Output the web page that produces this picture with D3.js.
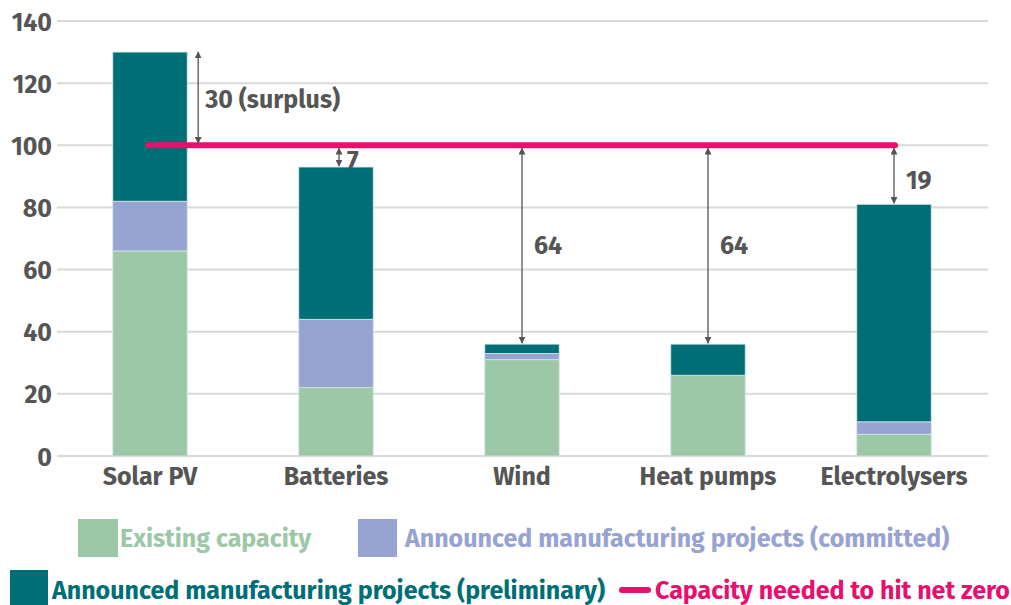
<!DOCTYPE html>
<html><head><meta charset="utf-8">
<script src="https://cdn.jsdelivr.net/npm/d3@7"></script>
<style>
body{margin:0;background:#fff;}
svg text{font-family:"Fira Sans",Roboto,"Noto Sans",sans-serif;font-weight:700;}
</style></head>
<body><svg id="c" width="1011" height="605"></svg>
<script>
const categories = ["Solar PV","Batteries","Wind","Heat pumps","Electrolysers"];
const existing = [66,22,31,26,7];
const committed = [16,22,2,0,4];
const preliminary = [48,49,3,10,70];
const netZero = 100;
const gapLabels = ["30 (surplus)","7","64","64","19"];
const yTicks = [0,20,40,60,80,100,120,140];
const seriesNames = ["Existing capacity","Announced manufacturing projects (committed)","Announced manufacturing projects (preliminary)","Capacity needed to hit net zero"];
const colors = ["#9dc8a8","#97a3d0","#006f75","#e8106e"];

const svg = d3.select("#c");
const x = d3.scaleBand().domain(categories).range([57,987]).paddingInner(0.6).paddingOuter(0.3);
const y = d3.scaleLinear().domain([0,140]).range([456,21]);

// grid
svg.append("g").selectAll("line").data(yTicks).join("line")
  .attr("x1",57).attr("x2",988).attr("y1",d=>y(d)).attr("y2",d=>y(d))
  .attr("stroke","#d9d9d9").attr("stroke-width",2);

// y axis labels
const yAxis = svg.append("g").attr("transform","translate(52,0)")
  .call(d3.axisLeft(y).tickValues(yTicks).tickSize(0).tickPadding(0));
yAxis.select(".domain").remove();
yAxis.selectAll("text").attr("font-size",25).attr("fill","#555").attr("dy","0.36em");

// x axis labels
const xAxis = svg.append("g").attr("transform","translate(0,465)")
  .call(d3.axisBottom(x).tickSize(0).tickPadding(0));
xAxis.select(".domain").remove();
xAxis.selectAll("text").attr("font-size",25).attr("fill","#555").attr("dy","0.78em");

// stacked bars
const rows = categories.map((c,i)=>({cat:c,existing:existing[i],committed:committed[i],preliminary:preliminary[i]}));
const stack = d3.stack().keys(["existing","committed","preliminary"])(rows);
svg.append("g").selectAll("g").data(stack).join("g").attr("fill",(d,i)=>colors[i])
  .selectAll("rect").data(d=>d).join("rect")
  .attr("x",d=>x(d.data.cat)).attr("width",x.bandwidth())
  .attr("y",d=>y(d[1])).attr("height",d=>Math.max(0,y(d[0])-y(d[1])))
  .attr("stroke","#d5e6e6").attr("stroke-width",d=>(d[1]-d[0])>0?0.8:0);

// net zero line
svg.append("line")
  .attr("x1",x(categories[0])+x.bandwidth()/2-2).attr("x2",x(categories[4])+x.bandwidth()/2+1)
  .attr("y1",y(netZero)).attr("y2",y(netZero))
  .attr("stroke",colors[3]).attr("stroke-width",6).attr("stroke-linecap","round");

// arrows
const defs = svg.append("defs");
defs.append("marker").attr("id","ah").attr("viewBox","0 0 10 10").attr("refX",9).attr("refY",5)
  .attr("markerWidth",7).attr("markerHeight",7).attr("orient","auto-start-reverse").attr("markerUnits","userSpaceOnUse")
  .append("path").attr("d","M0,0 L10,5 L0,10 Z").attr("fill","#555");

const totals = categories.map((c,i)=>existing[i]+committed[i]+preliminary[i]);
const arrowX = [x(categories[0])+x.bandwidth()+11, x(categories[1])+x.bandwidth()/2+3, x(categories[2])+x.bandwidth()/2, x(categories[3])+x.bandwidth()/2, x(categories[4])+x.bandwidth()/2];
categories.forEach((c,i)=>{
  const top = Math.max(totals[i],netZero), bot = Math.min(totals[i],netZero);
  const y1 = y(top)+ (totals[i]>netZero?0:3), y2 = y(bot)-(totals[i]>netZero?2:1);
  svg.append("line").attr("x1",arrowX[i]).attr("x2",arrowX[i])
    .attr("y1",y1).attr("y2",y2)
    .attr("stroke","#555").attr("stroke-width",1.3)
    .attr("marker-start","url(#ah)").attr("marker-end","url(#ah)");
  let ly = (y(top)+y(bot))/2;
  let lx = arrowX[i]+ (i===1?8:(i===0?7:12));
  if(i===1) ly = y(netZero)+15;
  if(i===4) ly = y(top)+35;
  svg.append("text").attr("x",lx).attr("y",ly).attr("dy","0.36em")
    .attr("font-size",25).attr("fill","#555").text(gapLabels[i]);
});

// legend
const lg = svg.append("g");
const leg = [
  {sq:[78,519,40,38], tx:120, ty:538, i:0},
  {sq:[358,519,39,38], tx:405, ty:538, i:1},
  {sq:[10,570,38,35], tx:52, ty:590, i:2}
];
leg.forEach(l=>{
  lg.append("rect").attr("x",l.sq[0]).attr("y",l.sq[1]).attr("width",l.sq[2]).attr("height",l.sq[3]).attr("fill",colors[l.i]);
  lg.append("text").attr("x",l.tx).attr("y",l.ty).attr("dy","0.36em").attr("font-size",25)
    .attr("fill",colors[l.i]).text(seriesNames[l.i]);
});
lg.append("line").attr("x1",622).attr("x2",648).attr("y1",590).attr("y2",590)
  .attr("stroke",colors[3]).attr("stroke-width",6).attr("stroke-linecap","round");
lg.append("text").attr("x",655).attr("y",590).attr("dy","0.36em").attr("font-size",25)
  .attr("fill",colors[3]).text(seriesNames[3]);
</script></body></html>
